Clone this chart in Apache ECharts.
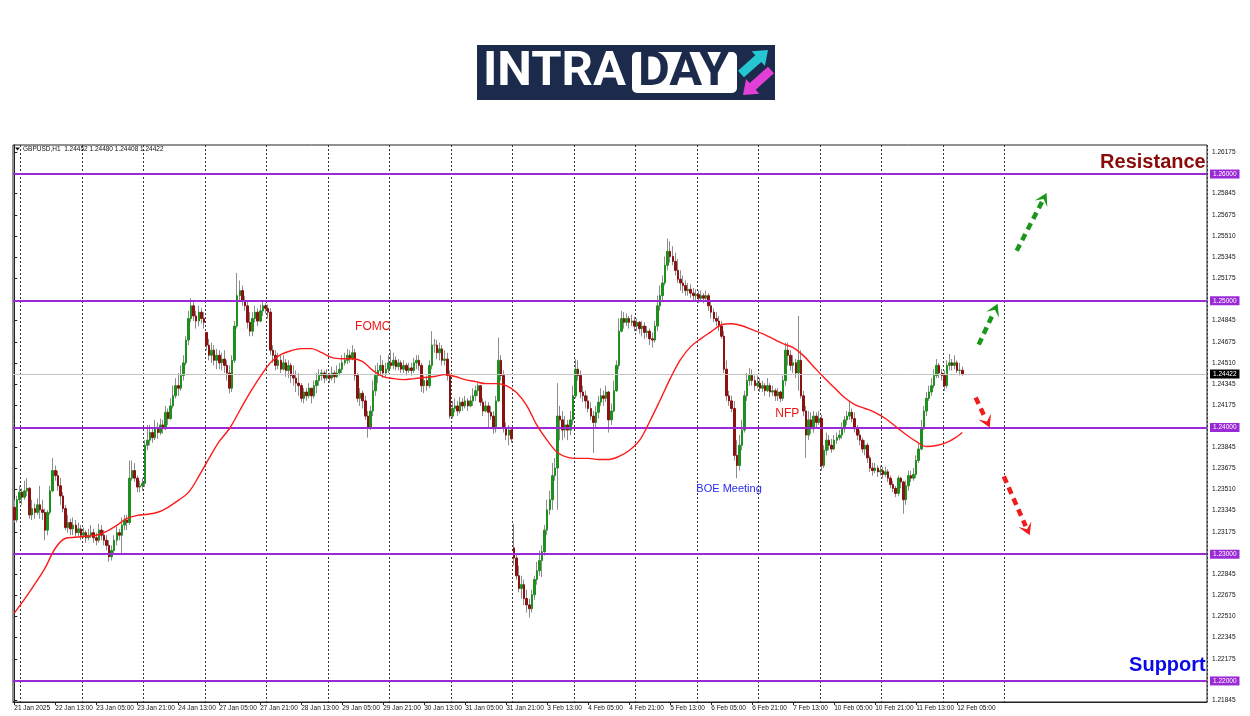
<!DOCTYPE html>
<html><head><meta charset="utf-8">
<script src="https://cdn.jsdelivr.net/npm/echarts@6/dist/echarts.min.js"></script>
<style>html,body{margin:0;padding:0;background:#fff}#c{width:1250px;height:716px}</style>
</head><body><div id="c"></div>
<script>
// ---------------- DATA ----------------
const symbolHeader = 'GBPUSD,H1  1.24452 1.24480 1.24408 1.24422';
const xLabels = ['21 Jan 2025','22 Jan 13:00','23 Jan 05:00','23 Jan 21:00','24 Jan 13:00','27 Jan 05:00','27 Jan 21:00','28 Jan 13:00','29 Jan 05:00','29 Jan 21:00','30 Jan 13:00','31 Jan 05:00','31 Jan 21:00','3 Feb 13:00','4 Feb 05:00','4 Feb 21:00','5 Feb 13:00','6 Feb 05:00','6 Feb 21:00','7 Feb 13:00','10 Feb 05:00','10 Feb 21:00','11 Feb 13:00','12 Feb 05:00'];
const labelEvery = 16;          // one time label every 16 hourly bars
const totalSlots = 466;         // bars + empty right-shift area
const daySeparators = [3,27,51,75,99,123,147,171,195,219,243,267,291,315,339,363,387];
const yTicks = [1.26175,1.25845,1.25675,1.25510,1.25345,1.25175,1.24845,1.24675,1.24510,1.24345,1.24175,1.23845,1.23675,1.23510,1.23345,1.23175,1.22845,1.22675,1.22510,1.22345,1.22175,1.21845];
const levels = [1.26,1.25,1.24,1.23,1.22];
const lastPrice = 1.24422;

const opens = [
1.2337,1.2327,1.2343,1.2349,1.2345,1.2350,1.2352,1.2331,1.2336,1.2333,
1.2339,1.2335,1.2333,1.2319,1.2333,1.2350,1.2366,1.2362,1.2354,1.2346,
1.2336,1.2321,1.2325,1.2320,1.2323,1.2317,1.2320,1.2315,1.2317,1.2313,
1.2315,1.2317,1.2313,1.2311,1.2319,1.2315,1.2311,1.2307,1.2298,1.2303,
1.2311,1.2317,1.2315,1.2323,1.2327,1.2325,1.2360,1.2366,1.2360,1.2353,
1.2354,1.2356,1.2386,1.2390,1.2396,1.2392,1.2399,1.2396,1.2402,1.2399,
1.2412,1.2407,1.2417,1.2425,1.2433,1.2431,1.2441,1.2451,1.2469,1.2486,
1.2496,1.2488,1.2484,1.2491,1.2486,1.2475,1.2465,1.2457,1.2461,1.2453,
1.2457,1.2451,1.2454,1.2449,1.2443,1.2431,1.2453,1.2480,1.2504,1.2508,
1.2500,1.2496,1.2483,1.2476,1.2486,1.2491,1.2484,1.2492,1.2496,1.2494,
1.2491,1.2461,1.2457,1.2449,1.2453,1.2446,1.2451,1.2445,1.2449,1.2441,
1.2439,1.2435,1.2433,1.2423,1.2428,1.2425,1.2431,1.2425,1.2433,1.2437,
1.2441,1.2443,1.2439,1.2441,1.2439,1.2443,1.2440,1.2443,1.2446,1.2451,
1.2453,1.2457,1.2454,1.2459,1.2441,1.2423,1.2427,1.2421,1.2409,1.2400,
1.2413,1.2429,1.2441,1.2445,1.2449,1.2443,1.2446,1.2451,1.2449,1.2453,
1.2448,1.2451,1.2446,1.2449,1.2445,1.2447,1.2445,1.2451,1.2453,1.2449,
1.2433,1.2437,1.2433,1.2449,1.2465,1.2465,1.2459,1.2462,1.2453,1.2454,
1.2441,1.2409,1.2415,1.2417,1.2413,1.2420,1.2417,1.2421,1.2417,1.2421,
1.2425,1.2429,1.2433,1.2420,1.2413,1.2417,1.2412,1.2409,1.2399,1.2421,
1.2453,1.2441,1.2400,1.2394,1.2398,1.2305,1.2297,1.2283,1.2273,1.2276,
1.2265,1.2260,1.2257,1.2268,1.2280,1.2287,1.2295,1.2302,1.2319,1.2335,
1.2343,1.2362,1.2368,1.2409,1.2406,1.2398,1.2402,1.2398,1.2406,1.2425,
1.2446,1.2441,1.2428,1.2425,1.2421,1.2415,1.2409,1.2404,1.2412,1.2420,
1.2425,1.2423,1.2428,1.2406,1.2413,1.2429,1.2449,1.2476,1.2486,1.2483,
1.2486,1.2483,1.2484,1.2480,1.2483,1.2478,1.2480,1.2475,1.2476,1.2470,
1.2469,1.2480,1.2496,1.2504,1.2514,1.2528,1.2539,1.2535,1.2531,1.2524,
1.2517,1.2514,1.2512,1.2508,1.2509,1.2506,1.2504,1.2505,1.2502,1.2504,
1.2502,1.2504,1.2496,1.2491,1.2486,1.2484,1.2480,1.2472,1.2446,1.2425,
1.2421,1.2415,1.2378,1.2370,1.2386,1.2398,1.2425,1.2437,1.2441,1.2437,
1.2433,1.2435,1.2431,1.2433,1.2429,1.2433,1.2428,1.2429,1.2425,1.2428,
1.2423,1.2437,1.2461,1.2457,1.2449,1.2451,1.2443,1.2453,1.2425,1.2413,
1.2394,1.2406,1.2399,1.2409,1.2404,1.2407,1.2370,1.2382,1.2390,1.2386,
1.2383,1.2390,1.2392,1.2394,1.2399,1.2406,1.2409,1.2412,1.2407,1.2399,
1.2394,1.2390,1.2383,1.2386,1.2376,1.2368,1.2366,1.2368,1.2365,1.2366,
1.2363,1.2365,1.2360,1.2355,1.2352,1.2348,1.2360,1.2357,1.2343,1.2354,
1.2362,1.2360,1.2363,1.2374,1.2383,1.2399,1.2413,1.2423,1.2428,1.2433,
1.2441,1.2449,1.2443,1.2441,1.2433,1.2449,1.2451,1.2449,1.2451,1.2445,
1.24452];

const highs = [
1.2343,1.2346,1.2354,1.2352,1.2358,1.2360,1.2353,1.2343,1.2340,1.2344,
1.2354,1.2343,1.2336,1.2335,1.2354,1.2376,1.2370,1.2366,1.2360,1.2349,
1.2339,1.2331,1.2328,1.2329,1.2327,1.2325,1.2323,1.2321,1.2319,1.2320,
1.2323,1.2320,1.2317,1.2324,1.2323,1.2319,1.2315,1.2311,1.2307,1.2315,
1.2322,1.2320,1.2329,1.2331,1.2331,1.2374,1.2374,1.2372,1.2362,1.2358,
1.2360,1.2390,1.2402,1.2402,1.2399,1.2406,1.2404,1.2407,1.2406,1.2417,
1.2415,1.2423,1.2433,1.2439,1.2443,1.2449,1.2457,1.2472,1.2492,1.2502,
1.2500,1.2492,1.2496,1.2494,1.2491,1.2475,1.2470,1.2467,1.2465,1.2462,
1.2461,1.2459,1.2461,1.2453,1.2449,1.2457,1.2484,1.2522,1.2516,1.2512,
1.2504,1.2500,1.2491,1.2491,1.2496,1.2494,1.2497,1.2500,1.2498,1.2497,
1.2494,1.2465,1.2461,1.2459,1.2457,1.2457,1.2454,1.2453,1.2451,1.2449,
1.2445,1.2443,1.2435,1.2431,1.2431,1.2435,1.2431,1.2437,1.2443,1.2446,
1.2446,1.2445,1.2446,1.2443,1.2448,1.2445,1.2449,1.2451,1.2457,1.2459,
1.2462,1.2461,1.2465,1.2462,1.2443,1.2431,1.2429,1.2425,1.2413,1.2417,
1.2437,1.2449,1.2451,1.2457,1.2453,1.2451,1.2457,1.2461,1.2459,1.2456,
1.2454,1.2453,1.2453,1.2451,1.2451,1.2451,1.2455,1.2457,1.2457,1.2451,
1.2441,1.2441,1.2453,1.2476,1.2470,1.2469,1.2467,1.2465,1.2461,1.2459,
1.2445,1.2421,1.2423,1.2421,1.2424,1.2423,1.2425,1.2423,1.2425,1.2431,
1.2433,1.2435,1.2433,1.2423,1.2421,1.2420,1.2417,1.2413,1.2425,1.2471,
1.2457,1.2445,1.2404,1.2402,1.2399,1.2324,1.2301,1.2291,1.2283,1.2280,
1.2272,1.2265,1.2272,1.2283,1.2294,1.2303,1.2307,1.2323,1.2343,1.2350,
1.2372,1.2376,1.2435,1.2417,1.2413,1.2409,1.2406,1.2413,1.2433,1.2454,
1.2453,1.2445,1.2433,1.2429,1.2425,1.2420,1.2413,1.2417,1.2425,1.2431,
1.2429,1.2433,1.2429,1.2419,1.2437,1.2453,1.2486,1.2492,1.2491,1.2490,
1.2488,1.2489,1.2487,1.2486,1.2484,1.2484,1.2483,1.2480,1.2478,1.2475,
1.2484,1.2504,1.2512,1.2520,1.2535,1.2549,1.2547,1.2543,1.2538,1.2533,
1.2524,1.2520,1.2516,1.2514,1.2513,1.2510,1.2509,1.2508,1.2508,1.2506,
1.2508,1.2506,1.2500,1.2494,1.2491,1.2488,1.2484,1.2476,1.2453,1.2429,
1.2425,1.2421,1.2390,1.2394,1.2406,1.2429,1.2443,1.2447,1.2446,1.2441,
1.2441,1.2439,1.2437,1.2435,1.2439,1.2435,1.2433,1.2431,1.2431,1.2429,
1.2441,1.2467,1.2467,1.2461,1.2457,1.2454,1.2488,1.2461,1.2429,1.2417,
1.2413,1.2412,1.2413,1.2412,1.2413,1.2410,1.2386,1.2396,1.2394,1.2391,
1.2394,1.2396,1.2398,1.2404,1.2409,1.2413,1.2421,1.2415,1.2412,1.2402,
1.2398,1.2392,1.2390,1.2388,1.2378,1.2372,1.2372,1.2370,1.2370,1.2369,
1.2369,1.2367,1.2362,1.2358,1.2354,1.2362,1.2361,1.2358,1.2358,1.2366,
1.2366,1.2368,1.2378,1.2388,1.2406,1.2417,1.2428,1.2433,1.2439,1.2446,
1.2454,1.2451,1.2446,1.2445,1.2453,1.2458,1.2454,1.2457,1.2453,1.2451,
1.24480];

const lows = [
1.2325,1.2325,1.2340,1.2339,1.2343,1.2346,1.2328,1.2327,1.2328,1.2331,
1.2328,1.2327,1.2311,1.2315,1.2331,1.2349,1.2358,1.2350,1.2339,1.2333,
1.2319,1.2317,1.2315,1.2315,1.2313,1.2314,1.2311,1.2313,1.2309,1.2311,
1.2313,1.2309,1.2307,1.2309,1.2311,1.2307,1.2303,1.2294,1.2295,1.2301,
1.2307,1.2311,1.2301,1.2319,1.2319,1.2323,1.2358,1.2357,1.2349,1.2349,
1.2350,1.2353,1.2382,1.2386,1.2388,1.2390,1.2391,1.2394,1.2395,1.2398,
1.2402,1.2406,1.2415,1.2423,1.2425,1.2429,1.2437,1.2449,1.2465,1.2483,
1.2484,1.2478,1.2480,1.2482,1.2478,1.2461,1.2453,1.2451,1.2449,1.2446,
1.2446,1.2445,1.2443,1.2437,1.2427,1.2428,1.2451,1.2478,1.2500,1.2496,
1.2492,1.2478,1.2472,1.2472,1.2483,1.2480,1.2483,1.2488,1.2490,1.2486,
1.2457,1.2451,1.2445,1.2446,1.2443,1.2445,1.2440,1.2439,1.2435,1.2433,
1.2428,1.2425,1.2420,1.2419,1.2421,1.2423,1.2419,1.2423,1.2427,1.2433,
1.2437,1.2435,1.2437,1.2435,1.2437,1.2435,1.2439,1.2441,1.2443,1.2449,
1.2450,1.2451,1.2453,1.2437,1.2420,1.2417,1.2415,1.2406,1.2392,1.2398,
1.2409,1.2425,1.2435,1.2441,1.2439,1.2439,1.2443,1.2446,1.2446,1.2445,
1.2445,1.2443,1.2443,1.2441,1.2443,1.2441,1.2443,1.2446,1.2445,1.2428,
1.2427,1.2429,1.2431,1.2446,1.2459,1.2454,1.2453,1.2449,1.2449,1.2437,
1.2407,1.2407,1.2412,1.2409,1.2411,1.2413,1.2415,1.2413,1.2416,1.2417,
1.2421,1.2425,1.2417,1.2409,1.2412,1.2400,1.2406,1.2395,1.2396,1.2420,
1.2437,1.2396,1.2390,1.2386,1.2388,1.2291,1.2280,1.2270,1.2265,1.2260,
1.2254,1.2250,1.2254,1.2264,1.2276,1.2283,1.2282,1.2299,1.2315,1.2331,
1.2335,1.2358,1.2335,1.2390,1.2390,1.2392,1.2390,1.2394,1.2402,1.2423,
1.2437,1.2423,1.2420,1.2415,1.2412,1.2406,1.2380,1.2399,1.2407,1.2417,
1.2417,1.2420,1.2396,1.2402,1.2412,1.2428,1.2446,1.2475,1.2478,1.2480,
1.2478,1.2480,1.2476,1.2476,1.2474,1.2472,1.2470,1.2471,1.2465,1.2463,
1.2467,1.2476,1.2492,1.2500,1.2512,1.2524,1.2530,1.2528,1.2520,1.2514,
1.2508,1.2506,1.2504,1.2504,1.2502,1.2500,1.2500,1.2498,1.2500,1.2498,
1.2499,1.2492,1.2486,1.2483,1.2480,1.2476,1.2470,1.2443,1.2421,1.2417,
1.2412,1.2374,1.2360,1.2366,1.2382,1.2396,1.2421,1.2433,1.2433,1.2429,
1.2431,1.2428,1.2428,1.2425,1.2428,1.2424,1.2425,1.2421,1.2421,1.2420,
1.2421,1.2433,1.2449,1.2445,1.2443,1.2439,1.2429,1.2423,1.2409,1.2376,
1.2390,1.2395,1.2396,1.2400,1.2402,1.2366,1.2368,1.2378,1.2382,1.2380,
1.2382,1.2387,1.2390,1.2391,1.2396,1.2402,1.2406,1.2404,1.2396,1.2390,
1.2386,1.2380,1.2378,1.2372,1.2365,1.2362,1.2364,1.2361,1.2362,1.2360,
1.2361,1.2357,1.2352,1.2349,1.2345,1.2346,1.2352,1.2332,1.2339,1.2350,
1.2357,1.2358,1.2360,1.2372,1.2382,1.2398,1.2409,1.2421,1.2425,1.2431,
1.2439,1.2439,1.2437,1.2429,1.2431,1.2445,1.2445,1.2446,1.2443,1.2441,
1.24408];

const closes = [
1.2327,1.2343,1.2349,1.2345,1.2350,1.2352,1.2331,1.2336,1.2333,1.2339,
1.2335,1.2333,1.2319,1.2333,1.2350,1.2366,1.2362,1.2354,1.2346,1.2336,
1.2321,1.2325,1.2320,1.2323,1.2317,1.2320,1.2315,1.2317,1.2313,1.2315,
1.2317,1.2313,1.2311,1.2319,1.2315,1.2311,1.2307,1.2298,1.2303,1.2311,
1.2317,1.2315,1.2323,1.2327,1.2325,1.2360,1.2366,1.2360,1.2353,1.2354,
1.2356,1.2386,1.2390,1.2396,1.2392,1.2399,1.2396,1.2402,1.2399,1.2412,
1.2407,1.2417,1.2425,1.2433,1.2431,1.2441,1.2451,1.2469,1.2486,1.2496,
1.2488,1.2484,1.2491,1.2486,1.2483,1.2465,1.2457,1.2461,1.2453,1.2457,
1.2451,1.2454,1.2449,1.2443,1.2431,1.2453,1.2480,1.2504,1.2508,1.2500,
1.2496,1.2483,1.2476,1.2486,1.2491,1.2484,1.2492,1.2496,1.2494,1.2491,
1.2461,1.2457,1.2449,1.2453,1.2446,1.2451,1.2445,1.2449,1.2441,1.2439,
1.2435,1.2433,1.2423,1.2428,1.2425,1.2431,1.2425,1.2433,1.2437,1.2441,
1.2443,1.2439,1.2441,1.2439,1.2443,1.2440,1.2443,1.2446,1.2451,1.2453,
1.2457,1.2454,1.2459,1.2441,1.2423,1.2427,1.2421,1.2409,1.2400,1.2413,
1.2429,1.2441,1.2445,1.2449,1.2443,1.2446,1.2451,1.2449,1.2453,1.2448,
1.2451,1.2446,1.2449,1.2445,1.2447,1.2445,1.2451,1.2453,1.2449,1.2433,
1.2437,1.2433,1.2449,1.2465,1.2465,1.2459,1.2462,1.2453,1.2454,1.2441,
1.2409,1.2415,1.2417,1.2413,1.2420,1.2417,1.2421,1.2417,1.2421,1.2425,
1.2429,1.2433,1.2420,1.2413,1.2417,1.2412,1.2409,1.2399,1.2421,1.2453,
1.2441,1.2400,1.2394,1.2398,1.2391,1.2297,1.2283,1.2273,1.2276,1.2265,
1.2260,1.2257,1.2268,1.2280,1.2287,1.2295,1.2302,1.2319,1.2335,1.2343,
1.2362,1.2368,1.2409,1.2406,1.2398,1.2402,1.2398,1.2406,1.2425,1.2446,
1.2441,1.2428,1.2425,1.2421,1.2415,1.2409,1.2404,1.2412,1.2420,1.2425,
1.2423,1.2428,1.2406,1.2413,1.2429,1.2449,1.2476,1.2486,1.2483,1.2486,
1.2483,1.2484,1.2480,1.2483,1.2478,1.2480,1.2475,1.2476,1.2470,1.2469,
1.2480,1.2496,1.2504,1.2514,1.2528,1.2539,1.2535,1.2531,1.2524,1.2517,
1.2514,1.2512,1.2508,1.2509,1.2506,1.2504,1.2505,1.2502,1.2504,1.2502,
1.2504,1.2496,1.2491,1.2486,1.2484,1.2480,1.2472,1.2446,1.2425,1.2421,
1.2415,1.2378,1.2370,1.2386,1.2398,1.2425,1.2437,1.2441,1.2437,1.2433,
1.2435,1.2431,1.2433,1.2429,1.2433,1.2428,1.2429,1.2425,1.2428,1.2423,
1.2437,1.2461,1.2457,1.2449,1.2451,1.2443,1.2453,1.2425,1.2413,1.2394,
1.2406,1.2399,1.2409,1.2404,1.2407,1.2370,1.2382,1.2390,1.2386,1.2383,
1.2390,1.2392,1.2394,1.2399,1.2406,1.2409,1.2412,1.2407,1.2399,1.2394,
1.2390,1.2383,1.2386,1.2376,1.2368,1.2366,1.2368,1.2365,1.2366,1.2363,
1.2365,1.2360,1.2355,1.2352,1.2348,1.2360,1.2357,1.2343,1.2354,1.2362,
1.2360,1.2363,1.2374,1.2383,1.2399,1.2413,1.2423,1.2428,1.2433,1.2441,
1.2449,1.2443,1.2441,1.2433,1.2449,1.2451,1.2449,1.2451,1.2445,1.24452,
1.24422];

// moving average: [bar index, price]
const maPoints = [[0,1.22535],[4,1.22646],[8,1.22764],[12,1.2289],[16,1.23047],[20,1.23126],[24,1.23134],[28,1.23142],[32,1.2315],[36,1.23181],[40,1.23228],[44,1.23283],[48,1.23307],[52,1.23315],[56,1.23331],[60,1.2337],[64,1.23425],[68,1.23488],[72,1.23614],[76,1.23756],[80,1.2389],[84,1.23992],[88,1.24134],[92,1.24276],[96,1.24402],[100,1.24512],[104,1.24575],[108,1.24606],[112,1.24622],[116,1.24622],[120,1.2459],[124,1.24551],[128,1.24543],[132,1.24543],[136,1.2452],[140,1.24449],[144,1.24402],[148,1.24386],[152,1.24378],[156,1.24386],[160,1.24394],[164,1.24402],[168,1.24417],[172,1.24402],[176,1.24378],[180,1.24362],[184,1.24346],[188,1.24346],[192,1.24331],[196,1.24276],[200,1.24173],[204,1.24016],[208,1.23898],[212,1.23803],[216,1.23764],[220,1.23756],[224,1.23756],[228,1.23748],[232,1.23748],[236,1.23772],[240,1.23819],[244,1.23898],[248,1.24047],[252,1.24213],[256,1.24386],[260,1.24535],[264,1.24638],[268,1.24701],[272,1.24756],[276,1.24811],[280,1.24819],[284,1.24803],[288,1.24772],[292,1.2474],[296,1.24701],[300,1.24661],[304,1.2463],[308,1.24567],[312,1.2448],[316,1.24394],[320,1.24315],[324,1.24236],[328,1.24181],[332,1.2415],[336,1.24118],[340,1.24071],[344,1.24008],[348,1.23945],[352,1.2389],[356,1.2385],[360,1.23858],[364,1.23882],[368,1.23929],[370,1.23961]];

// text annotations: [text, bar index, price, colour, font, align]
const notes = [
  ['FOMC', 133, 1.24795, '#f01414', 'normal 12px "Liberation Sans", Arial', 'left'],
  ['NFP', 297, 1.24110, '#f01414', 'normal 12px "Liberation Sans", Arial', 'left'],
  ['BOE Meeting', 266.2, 1.23512, '#2a2af0', 'normal 11px "Liberation Sans", Arial', 'left'],
  ['Resistance', 465, 1.26094, '#8b0a0a', 'bold 20px "Liberation Sans", Arial', 'right'],
  ['Support', 465, 1.22126, '#0a0ae6', 'bold 20px "Liberation Sans", Arial', 'right']
];
// dashed scenario arrows: [fromIndex, fromPrice, toIndex, toPrice, colour]
const arrows = [
  [376.4, 1.24654, 383.8, 1.24976, '#1a961a'],
  [391.2, 1.25394, 402.9, 1.25850, '#1a961a'],
  [375.2, 1.24236, 380.7, 1.24000, '#ee1c1c'],
  [386.2, 1.23614, 396.3, 1.23150, '#ee1c1c']
];

// ---------------- CHART ----------------
const PURPLE = '#9a2ad6';
const FONT = '"Liberation Sans", Arial, sans-serif';
const slots = Array.from({length: totalSlots}, (_, i) => String(i));
const daySet = new Set(daySeparators);
const showLabel = (i) => i % labelEvery === 0 && (i / labelEvery) < xLabels.length;
const ohlc = closes.map((c, i) => [opens[i], c, lows[i], highs[i]]);
const bodies = closes.map((c, i) => [opens[i], c, Math.min(opens[i], c), Math.max(opens[i], c)]);
const boxLabel = (bg) => ({show: true, position: 'end', distance: 3, formatter: (p) => Number(p.value).toFixed(5), color: '#fff', backgroundColor: bg, fontSize: 6.5, fontFamily: FONT, padding: [1, 3]});

const chart = echarts.init(document.getElementById('c'), null, {renderer: 'canvas'});
const option = {
  animation: false,
  backgroundColor: '#fff',
  grid: {left: 13, right: 43, top: 145, bottom: 14, show: true, borderColor: '#222', borderWidth: 1, containLabel: false, outerBoundsMode: 'none'},
  xAxis: [{
    type: 'category', data: slots, boundaryGap: true,
    axisLine: {show: true, lineStyle: {color: '#222'}},
    axisTick: {show: true, alignWithLabel: true, interval: (i) => showLabel(i), length: 3, lineStyle: {color: '#222'}},
    axisLabel: {show: true, interval: (i) => showLabel(i), formatter: (v, i) => xLabels[i / labelEvery] || '', align: 'left', fontSize: 6.5, fontFamily: FONT, color: '#111', margin: 3},
    splitLine: {show: true, interval: (i) => daySet.has(i), lineStyle: {color: '#333', type: [2, 2], width: 1}}
  }, {
    type: 'value', min: -0.5, max: totalSlots - 0.5, show: false
  }],
  yAxis: [{
    type: 'value', position: 'right', min: 1.21834, max: 1.26229, scale: true,
    axisLine: {show: true, lineStyle: {color: '#222'}},
    axisTick: {show: true, customValues: yTicks.concat(levels), length: 3, lineStyle: {color: '#222'}},
    axisLabel: {show: true, customValues: yTicks, formatter: (v) => Number(v).toFixed(5), fontSize: 6.5, fontFamily: FONT, color: '#111', margin: 5},
    splitLine: {show: false}
  }],
  series: [{
    name: 'wicks', type: 'candlestick', xAxisIndex: 0, yAxisIndex: 0, data: ohlc, barWidth: 1,
    itemStyle: {color: '#8c8c8c', color0: '#8c8c8c', borderColor: '#8c8c8c', borderColor0: '#8c8c8c', borderColorDoji: '#8c8c8c', borderWidth: 1},
    z: 2,
    markLine: {
      silent: true, symbol: 'none', animation: false, precision: 5,
      lineStyle: {color: PURPLE, width: 2, type: 'solid'},
      label: boxLabel(PURPLE),
      data: levels.map(v => ({yAxis: v}))
    }
  }, {
    name: 'bodies', type: 'candlestick', xAxisIndex: 0, yAxisIndex: 0, data: bodies, barWidth: 2,
    itemStyle: {color: '#1f8f1f', color0: '#8b1212', borderColor: '#1f8f1f', borderColor0: '#8b1212', borderColorDoji: '#8c8c8c', borderWidth: 1},
    z: 3,
    markLine: {
      silent: true, symbol: 'none', animation: false, precision: 5,
      lineStyle: {color: '#c4c4c4', width: 1, type: 'solid'},
      label: boxLabel('#000'),
      data: [{yAxis: lastPrice}]
    }
  }, {
    name: 'ma', type: 'line', xAxisIndex: 1, yAxisIndex: 0, data: maPoints, smooth: 0.35,
    showSymbol: false, symbol: 'none', lineStyle: {color: '#ff1a1a', width: 1.4}, z: 5
  }]
};
chart.setOption(option);

// ---------------- GRAPHICS (logo, header, notes, arrows) ----------------
const toPx = (i, p) => chart.convertToPixel({seriesIndex: 2}, [i, p]);
const g = [];
// logo
g.push({type: 'rect', shape: {x: 477, y: 45, width: 298, height: 55}, style: {fill: '#1c2b4c'}});
g.push({type: 'text', x: 483, y: 73, style: {text: 'INTRA', fill: '#fff', font: 'bold 49px Roboto, "Liberation Sans", Arial', align: 'left', verticalAlign: 'middle', textAlign: 'left', textVerticalAlign: 'middle'}});
g.push({type: 'rect', shape: {x: 632, y: 52, width: 105, height: 41, r: 5}, style: {fill: '#fff'}});
g.push({type: 'text', x: 638, y: 73, style: {text: 'DAY', fill: '#1c2b4c', font: 'bold 49px Roboto, "Liberation Sans", Arial', align: 'left', verticalAlign: 'middle', textAlign: 'left', textVerticalAlign: 'middle'}});
function arrowPoly(x0, y0, x1, y1, shaft, head, headLen) {
  const dx = x1 - x0, dy = y1 - y0, L = Math.hypot(dx, dy), ux = dx / L, uy = dy / L, px = -uy, py = ux;
  const bx = x1 - ux * headLen, by = y1 - uy * headLen;
  return [[x0 + px * shaft, y0 + py * shaft], [bx + px * shaft, by + py * shaft], [bx + px * head, by + py * head], [x1, y1],
          [bx - px * head, by - py * head], [bx - px * shaft, by - py * shaft], [x0 - px * shaft, y0 - py * shaft]];
}
g.push({type: 'polygon', shape: {points: arrowPoly(741, 74, 768, 50, 4.5, 10, 13)}, style: {fill: '#25c6d2'}});
g.push({type: 'polygon', shape: {points: arrowPoly(771, 70, 743, 95, 4.5, 10, 13)}, style: {fill: '#e23fd6'}});
// header
g.push({type: 'polygon', shape: {points: [[15, 147.5], [20, 147.5], [17.5, 150.5]]}, style: {fill: '#111'}});
g.push({type: 'text', x: 23, y: 149, style: {text: symbolHeader, fill: '#111', font: '6.5px ' + FONT, align: 'left', verticalAlign: 'middle', textAlign: 'left', textVerticalAlign: 'middle'}});
// notes
notes.forEach(n => {
  const pt = toPx(n[1], n[2]);
  g.push({type: 'text', x: pt[0], y: pt[1], z: 10, style: {text: n[0], fill: n[3], font: n[4], align: n[5], verticalAlign: 'middle', textAlign: n[5], textVerticalAlign: 'middle'}});
});
// arrows
arrows.forEach(a => {
  const s = toPx(a[0], a[1]), t = toPx(a[2], a[3]);
  const dx = t[0] - s[0], dy = t[1] - s[1], L = Math.hypot(dx, dy), ux = dx / L, uy = dy / L, px = -uy, py = ux;
  const hl = 12, hw = 7;
  const e = [t[0] - ux * (hl - 2), t[1] - uy * (hl - 2)];
  g.push({type: 'line', z: 10, shape: {x1: s[0], y1: s[1], x2: e[0], y2: e[1]}, style: {stroke: a[4], lineWidth: 4.5, lineDash: [7, 5], lineCap: 'butt'}});
  g.push({type: 'polygon', z: 10, shape: {points: [
    [t[0], t[1]],
    [t[0] - ux * hl + px * hw, t[1] - uy * hl + py * hw],
    [t[0] - ux * (hl * 0.55), t[1] - uy * (hl * 0.55)],
    [t[0] - ux * hl - px * hw, t[1] - uy * hl - py * hw]
  ]}, style: {fill: a[4]}});
});
chart.setOption({graphic: g});
</script></body></html>
